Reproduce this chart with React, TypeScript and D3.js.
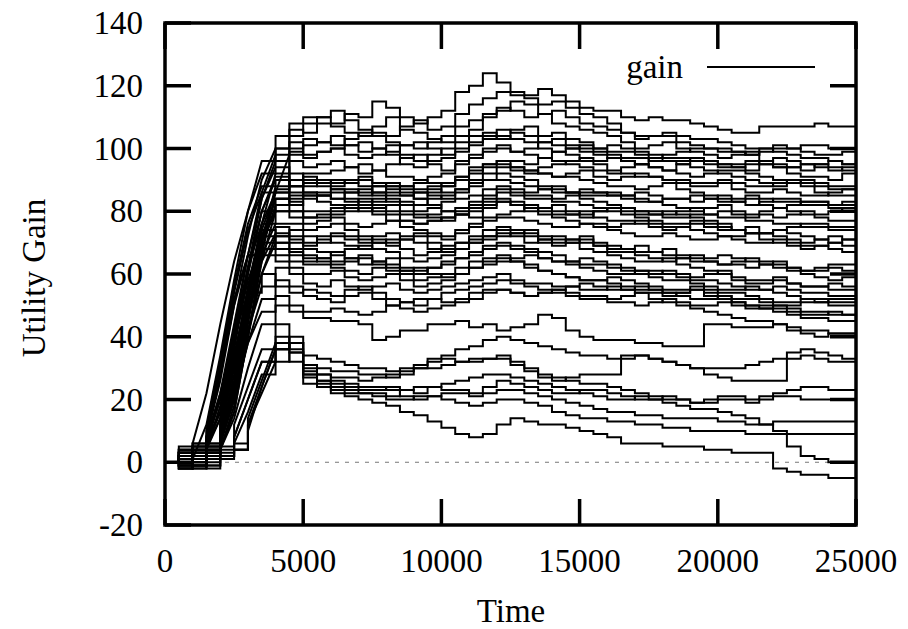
import * as d3 from 'd3';

// sample times: every 500 time units from 0 to 25000
const times = d3.range(0, 25001, 500);

const xTicks = [0, 5000, 10000, 15000, 20000, 25000];
const yTicks = [-20, 0, 20, 40, 60, 80, 100, 120, 140];

// runs that climb above 100
const highRuns = [
  [0, 3, 6, 22, 44, 64, 80, 92, 100, 106, 105, 110, 108, 111, 110, 115, 113, 110, 108, 110, 112, 118, 120, 124, 121, 118, 117, 119, 117, 115, 113, 112, 112, 110, 109, 110, 109, 109, 108, 107, 106, 105, 105, 107, 107, 107, 107, 108, 107, 107, 110],
  [0, -1, 3, 8, 26, 50, 72, 90, 100, 108, 108, 110, 112, 109, 106, 105, 104, 107, 109, 106, 107, 111, 114, 116, 118, 117, 116, 114, 115, 113, 111, 110, 108, 105, 103, 104, 104, 102, 101, 100, 100, 99, 98, 100, 99, 98, 97, 97, 96, 95, 97],
  [0, 2, 1, 12, 34, 58, 80, 96, 104, 104, 110, 108, 107, 105, 104, 107, 110, 106, 105, 103, 102, 104, 106, 110, 112, 115, 114, 111, 108, 107, 106, 105, 104, 102, 100, 101, 102, 100, 99, 98, 97, 98, 99, 96, 95, 94, 93, 95, 94, 93, 92],
  [0, 1, 4, 3, 10, 30, 54, 76, 92, 100, 101, 102, 104, 101, 99, 100, 101, 98, 96, 98, 100, 102, 104, 105, 103, 106, 107, 104, 105, 103, 102, 100, 101, 100, 99, 98, 97, 97, 96, 96, 95, 94, 93, 95, 94, 92, 91, 91, 90, 92, 91],
  [0, -2, 2, 6, 20, 42, 66, 86, 98, 99, 97, 99, 100, 101, 102, 100, 98, 95, 94, 96, 97, 100, 102, 104, 106, 105, 104, 102, 101, 100, 99, 99, 98, 97, 97, 96, 96, 95, 94, 93, 92, 91, 90, 89, 88, 90, 89, 88, 87, 87, 86],
  [0, 2, 6, 4, 6, 22, 46, 70, 88, 96, 94, 95, 96, 94, 92, 93, 95, 97, 98, 95, 93, 96, 98, 100, 101, 99, 100, 102, 103, 101, 100, 98, 97, 96, 95, 94, 93, 92, 91, 92, 93, 93, 92, 91, 90, 89, 88, 86, 85, 85, 84],
  [0, 1, 3, 1, 4, 16, 40, 66, 86, 98, 103, 102, 101, 103, 105, 104, 102, 101, 100, 102, 104, 107, 109, 111, 113, 112, 110, 111, 112, 110, 108, 107, 106, 105, 104, 104, 105, 104, 103, 103, 102, 101, 100, 100, 101, 100, 99, 98, 98, 99, 99],
  [0, 2, -1, 5, 16, 38, 62, 84, 96, 102, 98, 99, 100, 98, 97, 98, 99, 101, 102, 100, 98, 99, 101, 103, 104, 103, 102, 100, 99, 100, 101, 100, 99, 99, 98, 97, 96, 96, 97, 96, 95, 95, 96, 95, 94, 94, 95, 94, 93, 94, 95],
];

// runs settling around 80-100
const upperRuns = [
  [0, 4, 2, 10, 32, 56, 76, 88, 90, 88, 91, 89, 88, 89, 90, 88, 87, 88, 89, 91, 92, 95, 97, 99, 100, 99, 98, 97, 96, 95, 94, 93, 92, 94, 95, 94, 93, 95, 96, 95, 94, 94, 95, 96, 97, 96, 95, 95, 96, 95, 94],
  [0, 1, -1, 4, 14, 36, 60, 80, 90, 86, 89, 88, 87, 87, 86, 88, 89, 86, 84, 86, 88, 91, 94, 95, 96, 94, 93, 92, 91, 91, 90, 89, 88, 88, 87, 88, 89, 87, 86, 85, 84, 84, 85, 84, 83, 83, 82, 82, 81, 80, 80],
  [0, 3, 5, 3, 8, 28, 52, 74, 86, 92, 88, 89, 90, 89, 88, 86, 85, 85, 86, 85, 84, 87, 90, 92, 94, 93, 92, 94, 95, 96, 97, 95, 93, 92, 91, 91, 90, 89, 88, 88, 89, 87, 86, 86, 87, 86, 85, 85, 86, 87, 88],
  [0, -2, 1, 8, 30, 54, 74, 86, 87, 90, 86, 85, 84, 86, 87, 85, 83, 83, 82, 84, 85, 86, 88, 90, 92, 91, 90, 88, 87, 86, 85, 85, 86, 85, 84, 83, 82, 81, 80, 81, 82, 80, 79, 79, 78, 79, 80, 78, 77, 77, 78],
  [0, 2, 4, 5, 6, 20, 44, 68, 82, 85, 84, 85, 86, 84, 83, 83, 84, 82, 80, 81, 83, 84, 85, 87, 88, 87, 86, 87, 88, 86, 84, 83, 82, 81, 80, 80, 79, 80, 81, 79, 78, 78, 77, 77, 76, 76, 75, 75, 74, 74, 75],
  [0, 0, 3, 4, 18, 40, 62, 80, 84, 82, 85, 83, 82, 81, 80, 81, 82, 80, 79, 78, 77, 80, 82, 84, 86, 85, 84, 84, 83, 83, 82, 81, 80, 79, 78, 77, 76, 76, 77, 75, 74, 74, 75, 73, 72, 71, 70, 71, 72, 71, 70],
  [0, 5, 2, 6, 12, 32, 56, 76, 86, 83, 80, 80, 81, 82, 84, 82, 80, 79, 78, 79, 80, 79, 78, 81, 83, 82, 81, 81, 80, 79, 78, 80, 81, 80, 79, 79, 80, 79, 78, 77, 76, 74, 73, 73, 74, 73, 72, 71, 70, 69, 68],
  [0, 1, 6, 3, 6, 24, 48, 70, 84, 84, 86, 85, 84, 83, 82, 84, 86, 85, 84, 82, 80, 81, 83, 85, 87, 86, 85, 85, 84, 85, 86, 86, 85, 84, 83, 83, 84, 84, 85, 84, 83, 83, 84, 82, 81, 82, 83, 83, 82, 83, 84],
  [0, 3, 0, 6, 22, 44, 66, 84, 94, 90, 92, 92, 93, 94, 95, 93, 91, 91, 90, 89, 88, 91, 93, 95, 96, 96, 95, 97, 99, 98, 96, 96, 97, 96, 95, 97, 98, 99, 100, 100, 99, 99, 98, 99, 100, 100, 101, 101, 100, 100, 100],
  [0, -1, 2, 4, 4, 16, 40, 64, 80, 80, 78, 78, 79, 80, 81, 79, 77, 77, 76, 77, 78, 79, 81, 83, 84, 83, 82, 80, 79, 79, 80, 78, 77, 77, 76, 76, 75, 75, 74, 73, 72, 72, 73, 71, 70, 70, 69, 69, 68, 67, 66],
  [0, 0, 2, 7, 16, 38, 60, 80, 91, 88, 90, 90, 89, 90, 91, 89, 88, 87, 86, 88, 89, 90, 92, 94, 95, 94, 93, 92, 91, 92, 93, 91, 90, 91, 92, 91, 90, 90, 89, 89, 90, 89, 88, 88, 89, 89, 90, 89, 88, 88, 89],
  [0, 4, 1, 3, 8, 26, 50, 72, 84, 88, 85, 86, 87, 86, 85, 86, 88, 88, 87, 87, 86, 87, 89, 90, 90, 89, 88, 87, 86, 86, 87, 86, 85, 85, 86, 85, 84, 84, 83, 84, 85, 83, 82, 83, 84, 84, 83, 83, 82, 82, 83],
];

// runs in the 50-80 band
const midRuns = [
  [0, 2, 4, 8, 28, 50, 66, 74, 72, 74, 70, 72, 73, 72, 71, 70, 69, 71, 72, 70, 68, 70, 72, 74, 75, 74, 73, 71, 70, 71, 72, 70, 69, 68, 67, 67, 68, 66, 65, 65, 66, 65, 64, 64, 63, 62, 61, 61, 62, 61, 60],
  [0, 0, -2, 5, 12, 32, 54, 68, 75, 70, 72, 71, 70, 69, 68, 70, 71, 68, 66, 67, 69, 70, 71, 72, 73, 72, 70, 71, 72, 71, 70, 69, 68, 68, 69, 67, 66, 65, 64, 64, 63, 64, 65, 63, 62, 61, 60, 59, 58, 59, 58],
  [0, 4, 2, 2, 4, 18, 40, 60, 72, 72, 68, 67, 66, 68, 69, 68, 67, 65, 64, 65, 66, 68, 70, 71, 72, 73, 74, 72, 71, 70, 68, 67, 66, 65, 64, 64, 65, 63, 62, 61, 60, 59, 58, 58, 59, 57, 56, 56, 55, 55, 56],
  [0, 1, 3, 6, 16, 38, 58, 70, 70, 67, 66, 65, 64, 65, 66, 64, 62, 61, 60, 62, 63, 65, 67, 69, 70, 69, 68, 67, 66, 64, 63, 63, 62, 61, 60, 60, 61, 59, 58, 58, 57, 56, 55, 55, 56, 55, 54, 54, 53, 53, 54],
  [0, -1, 1, 4, 8, 26, 48, 66, 76, 76, 74, 75, 76, 74, 72, 71, 70, 72, 73, 72, 71, 73, 75, 77, 78, 78, 77, 76, 75, 75, 76, 75, 74, 73, 72, 72, 73, 72, 71, 71, 72, 71, 70, 70, 71, 69, 68, 69, 70, 71, 72],
  [0, 3, 5, 10, 30, 52, 66, 72, 66, 64, 63, 63, 62, 61, 60, 62, 63, 60, 58, 59, 60, 62, 64, 65, 66, 64, 62, 61, 60, 59, 58, 58, 59, 58, 57, 56, 55, 55, 56, 55, 54, 54, 53, 52, 51, 51, 52, 51, 50, 50, 51],
  [0, 2, 0, 4, 6, 20, 42, 60, 70, 68, 65, 64, 63, 64, 65, 63, 61, 61, 62, 60, 59, 60, 62, 63, 64, 65, 66, 65, 64, 63, 62, 61, 60, 60, 61, 59, 58, 58, 57, 56, 55, 55, 56, 55, 54, 53, 52, 52, 51, 51, 50],
  [0, -2, 3, 6, 14, 34, 54, 66, 64, 62, 60, 60, 61, 59, 58, 59, 60, 58, 56, 57, 58, 60, 62, 64, 65, 64, 63, 61, 60, 59, 58, 58, 57, 56, 55, 55, 54, 53, 52, 52, 53, 51, 50, 50, 49, 49, 48, 48, 47, 47, 48],
  [0, 1, 4, 3, 10, 30, 52, 70, 80, 78, 76, 77, 78, 76, 75, 76, 77, 75, 74, 73, 72, 74, 76, 78, 79, 80, 81, 79, 78, 77, 76, 76, 75, 76, 77, 75, 74, 75, 76, 76, 75, 74, 73, 73, 74, 75, 76, 76, 75, 75, 74],
  [0, 3, 1, 7, 20, 42, 62, 76, 82, 80, 78, 79, 80, 81, 82, 80, 79, 77, 76, 77, 78, 79, 80, 82, 83, 82, 80, 81, 82, 80, 79, 80, 81, 81, 80, 79, 78, 78, 79, 79, 80, 79, 78, 80, 81, 80, 79, 79, 80, 81, 82],
  [0, 1, -1, 4, 6, 24, 46, 64, 73, 71, 69, 70, 72, 71, 70, 72, 73, 71, 70, 68, 67, 68, 70, 72, 74, 73, 72, 70, 69, 70, 71, 69, 67, 67, 66, 65, 64, 65, 66, 64, 63, 63, 62, 63, 64, 62, 61, 62, 63, 63, 62],
  [0, -1, 2, 5, 14, 34, 54, 68, 68, 66, 64, 65, 67, 65, 63, 64, 65, 62, 61, 62, 64, 65, 66, 68, 69, 68, 67, 65, 64, 64, 65, 64, 63, 62, 61, 61, 60, 60, 59, 60, 61, 58, 57, 57, 58, 57, 56, 56, 57, 56, 55],
];

// runs in the 40-60 band
const lowMidRuns = [
  [0, 0, 2, 5, 8, 24, 42, 56, 62, 60, 57, 56, 58, 56, 55, 56, 57, 55, 54, 55, 56, 57, 58, 59, 60, 58, 57, 57, 56, 56, 55, 55, 56, 55, 54, 54, 53, 54, 55, 53, 52, 51, 50, 49, 48, 47, 46, 46, 45, 45, 45],
  [0, 2, 5, 8, 22, 40, 54, 60, 56, 54, 55, 54, 53, 55, 56, 54, 52, 51, 50, 52, 54, 55, 56, 57, 58, 57, 56, 55, 54, 53, 52, 52, 51, 51, 50, 51, 52, 50, 49, 48, 47, 46, 45, 45, 44, 43, 42, 42, 41, 41, 41],
  [0, 1, -1, 3, 4, 14, 30, 44, 50, 48, 46, 46, 45, 45, 44, 39, 40, 42, 42, 44, 44, 45, 43, 44, 42, 43, 44, 47, 46, 42, 40, 39, 39, 39, 38, 38, 37, 37, 37, 44, 44, 43, 43, 43, 44, 42, 41, 40, 41, 41, 41],
  [0, 3, 1, 3, 6, 20, 38, 52, 58, 56, 53, 52, 51, 53, 54, 52, 50, 51, 52, 52, 51, 52, 54, 55, 55, 54, 53, 54, 55, 54, 53, 53, 52, 53, 54, 52, 51, 51, 50, 50, 51, 50, 49, 49, 50, 48, 47, 47, 48, 47, 46],
  [0, 0, 4, 2, 8, 22, 38, 48, 53, 50, 48, 48, 49, 48, 47, 48, 50, 49, 48, 49, 50, 51, 52, 54, 55, 54, 53, 54, 55, 56, 57, 56, 55, 55, 56, 55, 54, 54, 55, 54, 53, 52, 52, 51, 50, 50, 51, 51, 52, 52, 53],
];

// runs that climb late, peak around 30-45 and stay low
const lowRuns = [
  [0, 1, 3, -2, 1, 4, 10, 24, 36, 38, 28, 25, 22, 21, 20, 19, 18, 16, 15, 13, 11, 9, 8, 9, 12, 14, 13, 12, 12, 11, 10, 9, 8, 6, 6, 6, 5, 5, 5, 4, 4, 3, 3, 3, -2, -3, -4, -4, -5, -5, -5],
  [0, -1, 2, 0, 3, 6, 16, 28, 36, 38, 28, 26, 24, 23, 22, 21, 20, 20, 21, 21, 20, 19, 18, 19, 20, 20, 19, 18, 16, 15, 14, 14, 13, 13, 12, 12, 11, 11, 10, 10, 10, 10, 9, 9, 9, 9, 9, 9, 9, 9, 9],
  [0, 2, -2, 1, 2, 4, 12, 24, 36, 40, 30, 28, 26, 25, 24, 24, 23, 21, 20, 21, 22, 22, 21, 22, 23, 23, 22, 21, 20, 19, 18, 17, 16, 16, 15, 15, 14, 14, 14, 14, 13, 13, 12, 12, 13, 13, 13, 13, 13, 13, 13],
  [0, 0, 1, 3, 2, 8, 20, 32, 38, 32, 27, 26, 25, 24, 23, 23, 24, 23, 22, 24, 25, 26, 27, 28, 28, 27, 26, 25, 24, 23, 22, 21, 20, 20, 21, 20, 19, 18, 17, 17, 16, 15, 14, 12, 10, 5, 2, 1, 0, 0, 0],
  [0, 3, 1, -1, 4, 8, 20, 32, 40, 35, 29, 28, 27, 27, 26, 27, 28, 29, 30, 30, 31, 32, 33, 33, 34, 32, 30, 28, 27, 26, 25, 25, 24, 23, 22, 21, 20, 20, 19, 20, 21, 21, 20, 21, 22, 23, 24, 24, 23, 23, 23],
  [0, 1, -1, 2, 2, 6, 14, 26, 38, 36, 31, 30, 29, 29, 28, 28, 27, 28, 30, 32, 33, 32, 32, 33, 33, 31, 29, 27, 26, 27, 28, 28, 28, 34, 34, 33, 32, 31, 30, 28, 27, 26, 26, 26, 26, 35, 36, 35, 34, 33, 33],
  [0, -2, 1, 2, 5, 12, 24, 36, 44, 38, 34, 33, 32, 31, 30, 30, 29, 30, 31, 33, 34, 36, 37, 39, 40, 39, 38, 37, 36, 35, 34, 34, 33, 33, 34, 33, 32, 31, 30, 30, 30, 30, 31, 32, 33, 33, 34, 33, 32, 32, 32],
  [0, 2, 0, -1, 2, 4, 12, 22, 32, 35, 25, 24, 23, 22, 22, 22, 21, 23, 24, 24, 23, 23, 22, 24, 26, 25, 24, 23, 22, 22, 23, 23, 22, 21, 20, 20, 21, 20, 19, 19, 20, 20, 19, 20, 21, 21, 20, 20, 20, 20, 20],
];

const allRuns = [...highRuns, ...upperRuns, ...midRuns, ...lowMidRuns, ...lowRuns];

const W = 908;
const H = 629;
const left = 165, right = 856, top = 23, bottom = 525;
const font = '"Liberation Serif", "DejaVu Serif", serif';

const x = d3.scaleLinear().domain([0, 25000]).range([left, right]);
const y = d3.scaleLinear().domain([-20, 140]).range([bottom, top]);

// steps everywhere, except the steep initial climb which reads as a slope
function toPoints(vals: number[]): [number, number][] {
  const pts: [number, number][] = [[times[0], vals[0]]];
  for (let i = 1; i < vals.length; i++) {
    const climbing = times[i] <= 5000 && vals[i] - vals[i - 1] > 8;
    if (!climbing) pts.push([times[i], vals[i - 1]]);
    pts.push([times[i], vals[i]]);
  }
  return pts;
}

const line = d3.line<[number, number]>()
  .x(d => x(d[0]))
  .y(d => y(d[1]));

export default function App() {
  const tickLen = 26;
  return (
    <svg width={W} height={H} style={{ position: 'absolute', left: 0, top: 0, background: '#fff' }}>
      <rect width={W} height={H} fill="#fff" />

      {/* zero reference */}
      <line x1={left} x2={right} y1={y(0)} y2={y(0)} stroke="#777" strokeWidth={1} strokeDasharray="4,6" />

      <g fill="none" stroke="#000" strokeWidth={2}>
        {allRuns.map((r, i) => (
          <path key={i} d={line(toPoints(r)) || ''} />
        ))}
      </g>

      {/* ticks on all four sides */}
      <g stroke="#000" strokeWidth={3.5}>
        {xTicks.map(t => (
          <g key={'x' + t}>
            <line x1={x(t)} x2={x(t)} y1={bottom} y2={bottom - tickLen} />
            <line x1={x(t)} x2={x(t)} y1={top} y2={top + tickLen} />
          </g>
        ))}
        {yTicks.map(t => (
          <g key={'y' + t}>
            <line x1={left} x2={left + tickLen} y1={y(t)} y2={y(t)} />
            <line x1={right} x2={right - tickLen} y1={y(t)} y2={y(t)} />
          </g>
        ))}
      </g>

      <rect x={left} y={top} width={right - left} height={bottom - top} fill="none" stroke="#000" strokeWidth={3.5} />

      <g fontFamily={font} fontSize={33} fill="#000">
        {xTicks.map(t => (
          <text key={'xl' + t} x={x(t)} y={572} textAnchor="middle">{t}</text>
        ))}
        {yTicks.map(t => (
          <text key={'yl' + t} x={143} y={y(t) + 11} textAnchor="end">{t}</text>
        ))}
        <text x={511} y={622} textAnchor="middle">Time</text>
        <text transform="translate(45,278) rotate(-90)" textAnchor="middle">Utility Gain</text>

        {/* legend */}
        <text x={683} y={78} textAnchor="end">gain</text>
      </g>
      <line x1={707} x2={815} y1={67} y2={67} stroke="#000" strokeWidth={1.9} />
    </svg>
  );
}
